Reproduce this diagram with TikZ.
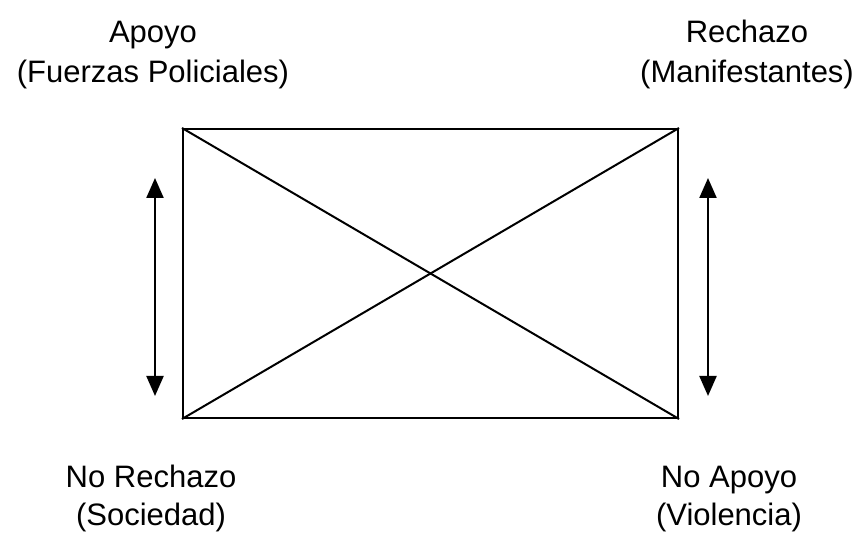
\documentclass[tikz,border=0pt]{standalone}
\usepackage{fontspec}
\setmainfont{Liberation Sans}
\usetikzlibrary{arrows.meta}

\tikzstyle{labelline} = [anchor=base, inner sep=0pt, font=\fontsize{31}{37}\selectfont]
\tikzstyle{frameblock} = [rectangle, draw=black, line width=2pt, inner sep=0pt, minimum width=495pt, minimum height=289pt]
\tikzstyle{cross} = [-, draw=black, line width=2pt]
\tikzstyle{flow} = [{Triangle[length=20pt,width=17pt]}-{Triangle[length=20pt,width=17pt]}, draw=black, line width=2.2pt]

\begin{document}
\begin{tikzpicture}[x=1pt, y=1pt]
    \useasboundingbox (0,0) rectangle (861,534);

    \node (frame) [frameblock] at (430.5,260.5) {};

    \node (apoyo) [labelline] at (153,491) {Apoyo};
    \node (apoyosub) [labelline] at (153,451) {(Fuerzas Policiales)};
    \node (rechazo) [labelline] at (747,491) {Rechazo};
    \node (rechazosub) [labelline] at (747,451) {(Manifestantes)};
    \node (norechazo) [labelline] at (151,46) {No Rechazo};
    \node (norechazosub) [labelline] at (151,8) {(Sociedad)};
    \node (noapoyo) [labelline] at (729,46) {No Apoyo};
    \node (noapoyosub) [labelline] at (729,8) {(Violencia)};

    \coordinate (lefttop) at (155,356);
    \coordinate (leftbot) at (155,138);
    \coordinate (righttop) at (708,356);
    \coordinate (rightbot) at (708,138);

    \draw [cross] (frame.north west) -- (frame.south east);
    \draw [cross] (frame.south west) -- (frame.north east);

    \draw [flow] (lefttop) -- (leftbot);
    \draw [flow] (righttop) -- (rightbot);
\end{tikzpicture}
\end{document}
